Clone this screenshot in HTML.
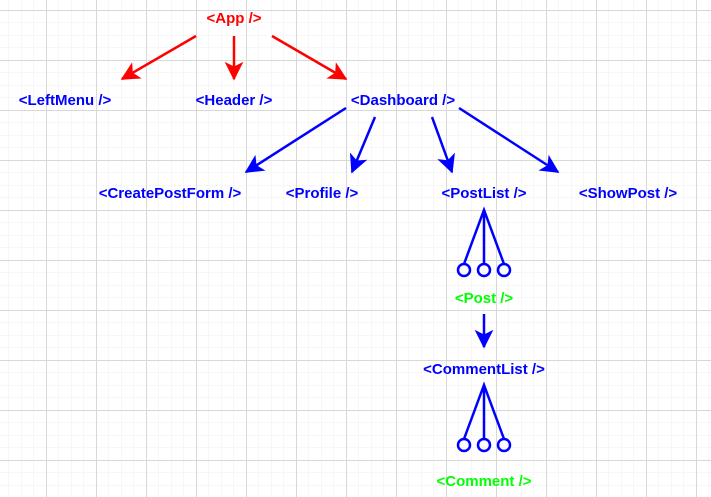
<!DOCTYPE html>
<html><head><meta charset="utf-8"><style>
html,body{margin:0;padding:0;background:#fff}
svg{display:block}
text{font-family:"Liberation Sans",Arial,sans-serif;font-weight:bold;font-size:15px}
</style></head><body>
<svg width="711" height="497" viewBox="0 0 711 497" xmlns="http://www.w3.org/2000/svg">
<defs>
<pattern id="minor" x="-4" y="-2.5" width="12.5" height="12.5" patternUnits="userSpaceOnUse">
<path d="M0 0H12.5M0 0V12.5" stroke="#efefef" stroke-width="1" fill="none"/>
</pattern>
<pattern id="major" x="-4" y="10" width="50" height="50" patternUnits="userSpaceOnUse">
<path d="M0 0.5H50M0.5 0V50" stroke="#d8d8d8" stroke-width="1" fill="none"/>
</pattern>
<marker id="ar" viewBox="0 0 12 12" refX="11" refY="6" markerWidth="7.5" markerHeight="7.5" orient="auto" markerUnits="strokeWidth">
<path d="M0 0L12 6L0 12L3 6Z" fill="#f00"/>
</marker>
<marker id="ab" viewBox="0 0 12 12" refX="11" refY="6" markerWidth="7.5" markerHeight="7.5" orient="auto" markerUnits="strokeWidth">
<path d="M0 0L12 6L0 12L3 6Z" fill="#00f"/>
</marker>
</defs>
<rect width="711" height="497" fill="url(#minor)"/>
<rect width="711" height="497" fill="url(#major)"/>

<g stroke="#f00" stroke-width="2.5" fill="none" marker-end="url(#ar)">
<line x1="196" y1="36" x2="122" y2="79"/>
<line x1="234" y1="36" x2="234" y2="79"/>
<line x1="272" y1="36" x2="346" y2="79"/>
</g>
<g stroke="#00f" stroke-width="2.5" fill="none" marker-end="url(#ab)">
<line x1="346" y1="108" x2="246" y2="172"/>
<line x1="375" y1="117" x2="352" y2="172"/>
<line x1="432" y1="117" x2="452" y2="172"/>
<line x1="459" y1="108" x2="558" y2="172"/>
<line x1="484" y1="314" x2="484" y2="347"/>
</g>
<g stroke="#00f" stroke-width="2.5" fill="none">
<path d="M464 264L484 210L504 264M484 210V264"/>
<circle cx="464" cy="270" r="6"/><circle cx="484" cy="270" r="6"/><circle cx="504" cy="270" r="6"/>
<path d="M464 439L484 385L504 439M484 385V439"/>
<circle cx="464" cy="445" r="6"/><circle cx="484" cy="445" r="6"/><circle cx="504" cy="445" r="6"/>
</g>

<text x="234" y="23" fill="#f00" text-anchor="middle">&lt;App /&gt;</text>
<g fill="#00f" text-anchor="middle">
<text x="65" y="105">&lt;LeftMenu /&gt;</text>
<text x="234" y="105">&lt;Header /&gt;</text>
<text x="403" y="105">&lt;Dashboard /&gt;</text>
<text x="170" y="198">&lt;CreatePostForm /&gt;</text>
<text x="322" y="198">&lt;Profile /&gt;</text>
<text x="484" y="198">&lt;PostList /&gt;</text>
<text x="628" y="198">&lt;ShowPost /&gt;</text>
<text x="484" y="374">&lt;CommentList /&gt;</text>
</g>
<g fill="#00ff00" text-anchor="middle">
<text x="484" y="303">&lt;Post /&gt;</text>
<text x="484" y="486">&lt;Comment /&gt;</text>
</g>
</svg>
</body></html>
